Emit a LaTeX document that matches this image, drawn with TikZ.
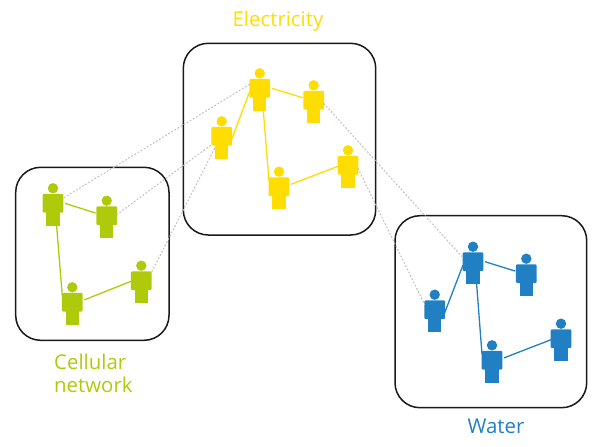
\documentclass[tikz,border=0pt]{standalone}
\usepackage{fontspec}
\setmainfont{Open Sans}
\definecolor{elec}{HTML}{FFDD00}
\definecolor{cell}{HTML}{AFCA0B}
\definecolor{wat}{HTML}{2180C4}
\tikzset{
  cluster/.style={draw=black!90,line width=1.5pt,rounded corners=25pt},
  personbox/.style={inner sep=0pt,outer sep=0pt,minimum width=20pt,minimum height=31pt,rectangle},
  link/.style={line width=1.3pt},
  cross/.style={draw=black!25,line width=1pt,dash pattern=on 1.8pt off 1.8pt},
  label/.style={font=\fontsize{20.4pt}{23pt}\selectfont,inner sep=0pt,anchor=base}
}
\newcommand{\person}[4]{%
  \node[personbox] (#1) at (#2,#3+21.5) {};
  \fill[#4] (#2,#3) circle (5.2pt);
  \fill[#4,rounded corners=1.2pt] (#2-10.4,#3+5.6) -- (#2+10.4,#3+5.6) -- (#2+10.4,#3+24.4) -- (#2-10.4,#3+24.4) -- cycle;
  \fill[#4] (#2-6.6,#3+22) rectangle (#2+6.6,#3+37.4);
}
\begin{document}
\begin{tikzpicture}[x=1pt,y=-1pt]
\useasboundingbox (0,0) rectangle (600,447);
\draw[cluster] (183.3,43.3) rectangle (375.7,235);
\draw[cluster] (15.7,167.3) rectangle (169,340.3);
\draw[cluster] (395,215.7) rectangle (586.7,407.7);
% Electricity
\person{ea}{259.7}{73.3}{elec}
\person{eb}{313.7}{85.3}{elec}
\person{ec}{221.7}{121.3}{elec}
\person{ed}{279}{171.7}{elec}
\person{ee}{348}{150.3}{elec}
% Cellular
\person{ca}{53}{188.3}{cell}
\person{cb}{106.7}{200.7}{cell}
\person{cc}{72.3}{287.3}{cell}
\person{cd}{141.3}{265.7}{cell}
% Water
\person{wa}{473}{246.7}{wat}
\person{wb}{526.3}{258.7}{wat}
\person{wc}{434.7}{294.7}{wat}
\person{wd}{492}{345.3}{wat}
\person{we}{561}{323.7}{wat}
% Electricity links
\draw[link,elec] ([shift={(2,9)}]ea.north east) -- ([shift={(-1,6.4)}]eb.north west);
\draw[link,elec] ([yshift=-12.3pt]ea.north west) -- ([yshift=-12pt]ec.north east);
\draw[link,elec] ([xshift=3.6pt]ea.south) -- ([yshift=-3pt]ed.north west);
\draw[link,elec] ([shift={(2,6.6)}]ed.north east) -- ([yshift=-10pt]ee.north west);
% Cellular links
\draw[link,cell] ([shift={(2,9)}]ca.north east) -- ([shift={(-1,6.4)}]cb.north west);
\draw[link,cell] ([xshift=3.6pt]ca.south) -- ([yshift=-3pt]cc.north west);
\draw[link,cell] ([shift={(2,6.6)}]cc.north east) -- ([yshift=-9.5pt]cd.north west);
% Water links
\draw[link,wat] ([shift={(2,9)}]wa.north east) -- ([shift={(-1,6.4)}]wb.north west);
\draw[link,wat] ([yshift=-12.3pt]wa.north west) -- ([yshift=-12pt]wc.north east);
\draw[link,wat] ([xshift=3.6pt]wa.south) -- ([yshift=-3pt]wd.north west);
\draw[link,wat] ([shift={(2,6.6)}]wd.north east) -- ([yshift=-10pt]we.north west);
% Cross links
\draw[cross] ([yshift=-5pt]ea.north west) -- ([yshift=-4pt]ca.north east);
\draw[cross] ([shift={(-1,18)}]ec.north west) -- ([yshift=-8pt]cb.north east);
\draw[cross] ([shift={(3,21)}]ec.north west) -- ([yshift=-1pt]cd.north east);
\draw[cross] ([yshift=-12pt]eb.north east) -- ([shift={(-1,4)}]wa.north west);
\draw[cross] ([yshift=-12pt]ee.north east) -- ([yshift=-4pt]wc.north west);
% Labels
\node[label,text=elec] (tE) at (278,26.3) {Electricity};
\node[label,text=cell,align=left,anchor=north west] (tC) at (54,354) {Cellular\\network};
\node[label,text=wat] (tW) at (496,433) {Water};
\end{tikzpicture}
\end{document}
